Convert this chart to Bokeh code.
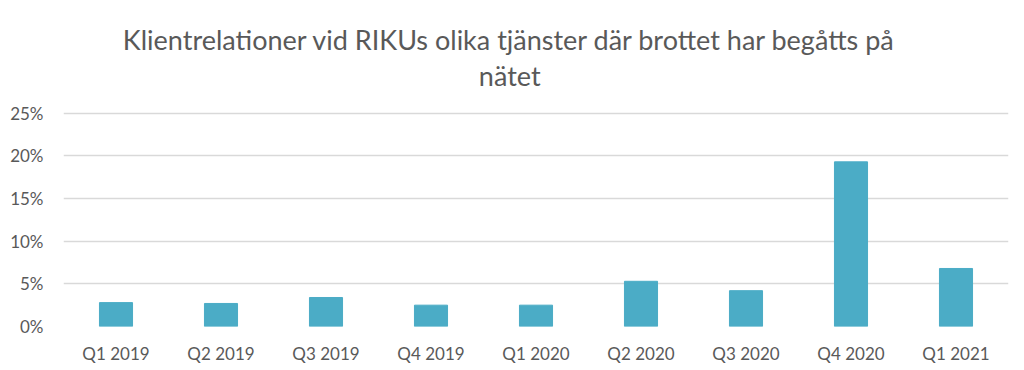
from bokeh.plotting import figure
from bokeh.models import Range1d, NumeralTickFormatter, FixedTicker, Label
from bokeh.embed import file_html
from bokeh.resources import INLINE

categories = ["Q1 2019", "Q2 2019", "Q3 2019", "Q4 2019", "Q1 2020",
              "Q2 2020", "Q3 2020", "Q4 2020", "Q1 2021"]
values = [0.028, 0.027, 0.034, 0.025, 0.025, 0.053, 0.042, 0.193, 0.068]
y_ticks = [0, 0.05, 0.10, 0.15, 0.20, 0.25]
title_lines = ["Klientrelationer vid RIKUs olika tjänster där brottet har begåtts på", "nätet"]

FONT = "Lato"
GRAY = "#595959"

p = figure(x_range=categories, width=1024, height=370, output_backend="svg",
           toolbar_location=None, min_border_left=63, min_border_right=16,
           min_border_top=0, min_border_bottom=44)
p.y_range = Range1d(0, 0.3821)
p.vbar(x=categories, top=values, width=0.315, color="#4bacc6", line_color="#4bacc6")

p.outline_line_color = None
p.xgrid.grid_line_color = None
p.ygrid.grid_line_color = "#d9d9d9"
p.ygrid.grid_line_width = 1.5
p.yaxis.ticker = FixedTicker(ticks=y_ticks)
p.yaxis.formatter = NumeralTickFormatter(format="0%")
for ax in (p.xaxis[0], p.yaxis[0]):
    ax.axis_line_color = None
    ax.major_tick_line_color = None
    ax.minor_tick_line_color = None
    ax.major_label_text_font = FONT
    ax.major_label_text_font_size = "17px"
    ax.major_label_text_color = GRAY
p.yaxis.major_label_standoff = 14
p.xaxis.major_label_standoff = 10

ys = [0.3360, 0.2942]
for t, y in zip(title_lines, ys):
    p.add_layout(Label(x=4.25, y=y, text=t, text_align="center", text_baseline="alphabetic",
                       text_font=FONT, text_font_size="27px", text_color=GRAY))

open("out.html", "w").write(file_html(p, INLINE))
